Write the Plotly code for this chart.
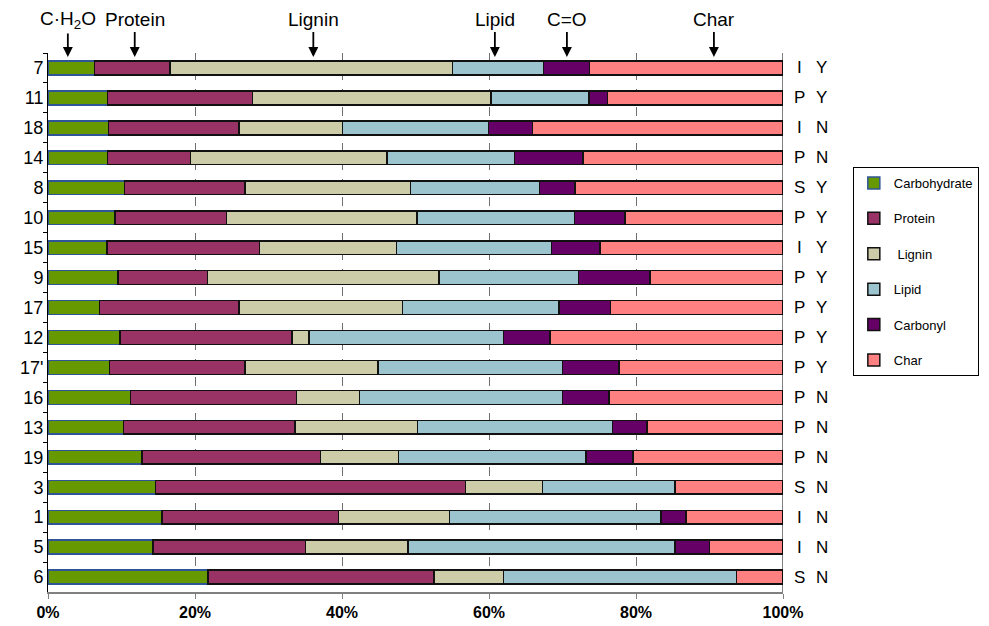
import plotly.graph_objects as go

samples = ["7", "11", "18", "14", "8", "10", "15", "9", "17", "12", "17'", "16", "13", "19", "3", "1", "5", "6"]
col1 = ["I", "P", "I", "P", "S", "P", "I", "P", "P", "P", "P", "P", "P", "P", "S", "I", "I", "S"]
col2 = ["Y", "Y", "N", "N", "Y", "Y", "Y", "Y", "Y", "Y", "Y", "N", "N", "N", "N", "N", "N", "N"]

carbohydrate = [6.3, 8.1, 8.2, 8.1, 10.4, 9.1, 8.0, 9.5, 7.0, 9.8, 8.4, 11.2, 10.3, 12.8, 14.6, 15.5, 14.3, 21.8]
protein      = [10.3, 19.7, 17.8, 11.3, 16.4, 15.2, 20.8, 12.2, 19.0, 23.4, 18.4, 22.6, 23.3, 24.3, 42.2, 24.0, 20.7, 30.7]
lignin       = [38.4, 32.5, 14.1, 26.7, 22.5, 25.9, 18.6, 31.5, 22.2, 2.3, 18.1, 8.6, 16.7, 10.6, 10.5, 15.1, 14.0, 9.5]
lipid        = [12.4, 13.3, 19.8, 17.4, 17.6, 21.4, 21.1, 19.0, 21.3, 26.5, 25.1, 27.6, 26.5, 25.5, 18.0, 28.8, 36.3, 31.7]
carbonyl     = [6.3, 2.5, 6.0, 9.3, 4.8, 6.9, 6.6, 9.7, 7.0, 6.3, 7.7, 6.3, 4.7, 6.4, 0.0, 3.4, 4.7, 0.0]
char         = [26.3, 23.9, 34.1, 27.2, 28.3, 21.5, 24.9, 18.1, 23.5, 31.7, 22.3, 23.7, 18.5, 20.4, 14.7, 13.2, 10.0, 6.3]

series_names = ["Carbohydrate", "Protein", " Lignin", "Lipid", "Carbonyl", "Char"]
series_values = [carbohydrate, protein, lignin, lipid, carbonyl, char]
colors = ["#669900", "#993366", "#CCCCA8", "#9BC4CE", "#660066", "#FF8080"]
edge = ["#2F5597", "#111111", "#111111", "#111111", "#111111", "#111111"]

top_labels = ["C·H<sub>2</sub>O", "Protein", "Lignin", "Lipid", "C=O", "Char"]
top_pos = [2.7, 11.8, 36.1, 60.8, 70.6, 90.6]

fig = go.Figure()
for name, vals, c, e in zip(series_names, series_values, colors, edge):
    fig.add_trace(go.Bar(
        y=samples, x=vals, name=name, orientation="h",
        marker=dict(color=c, line=dict(color=e, width=1.5)),
        width=0.46, legendgroup=name,
    ))

font_main = "Liberation Sans, Arial, sans-serif"

annotations = []
for i, (a, b) in enumerate(zip(col1, col2)):
    annotations.append(dict(x=1.023, y=i, xref="paper", yref="y", text=a, showarrow=False,
                            xanchor="center", yanchor="middle", font=dict(size=17, color="#000000")))
    annotations.append(dict(x=1.053, y=i, xref="paper", yref="y", text=b, showarrow=False,
                            xanchor="center", yanchor="middle", font=dict(size=17, color="#000000")))
for t, p in zip(top_labels, top_pos):
    annotations.append(dict(x=p, y=0.9926, xref="x", yref="paper", text=t, showarrow=True,
                            ax=0, ay=-37, arrowhead=2, arrowsize=1.1, arrowwidth=1.8,
                            arrowcolor="#000000", font=dict(size=19, color="#000000")))

# page body has an 8px margin, so the figure is drawn 8px in from the window corner
fig.update_layout(
    width=981, height=618,
    margin=dict(l=40, r=206, t=45, b=34, autoexpand=False),
    barmode="stack",
    plot_bgcolor="white", paper_bgcolor="white",
    font=dict(family=font_main, color="#000000"),
    showlegend=True,
    legend=dict(x=1.095, y=0.7885, xanchor="left", yanchor="top",
                bordercolor="#000000", borderwidth=1, bgcolor="white",
                font=dict(size=13), traceorder="grouped", tracegroupgap=15.5),
    annotations=annotations,
    shapes=[dict(type="line", xref="x", yref="paper", x0=100, x1=100, y0=0, y1=1,
                 line=dict(color="#000000", width=1))],
)
fig.update_xaxes(range=[0, 100], dtick=20, ticksuffix="%", showgrid=True, automargin=False,
                 gridcolor="#707070", griddash="dash", gridwidth=1,
                 showline=True, linecolor="#808080", linewidth=2,
                 ticks="outside", ticklen=5, tickcolor="#808080", zeroline=False,
                 tickfont=dict(size=16, weight="bold"))
fig.update_yaxes(autorange="reversed", showgrid=False, showline=True, linecolor="#000000", linewidth=1,
                 ticks="outside", ticklen=4, tickson="boundaries", tickcolor="#000000",
                 automargin=False, tickfont=dict(size=18))

fig.write_html("out.html")
